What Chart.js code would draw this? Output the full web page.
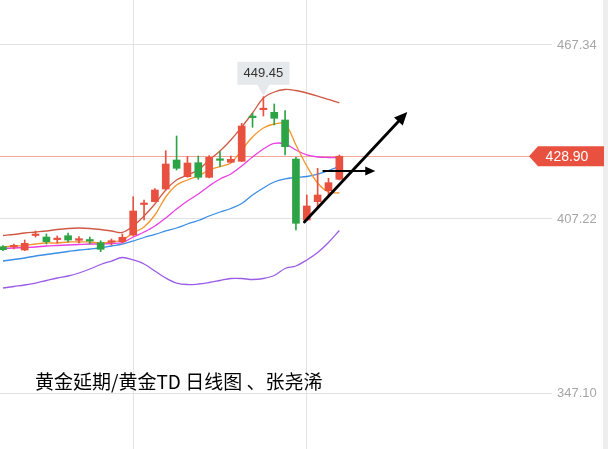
<!DOCTYPE html>
<html><head><meta charset="utf-8">
<script src="https://cdn.jsdelivr.net/npm/chart.js@4"></script>
<style>
html,body{margin:0;padding:0;background:#fff;overflow:hidden}
#wrap{position:relative;width:608px;height:449px;background:linear-gradient(to right,#fff 603px,#eeeeee 603px)}
</style>
</head><body><div id="wrap"><canvas id="c" width="608" height="449"></canvas></div>
<script>
// ---- data ----
const opens  = [397.65,397.58,396.51,401.52,401.00,400.10,401.45,399.86,399.83,399.03,399.20,399.38,401.69,412.23,413.20,417.58,427.60,421.83,426.67,421.62,427.70,426.80,427.15,442.45,444.97,444.07,441.41,427.94,406.87,413.20,416.99,420.93];
const highs  = [398.00,398.58,399.97,403.08,402.04,401.35,402.38,401.11,401.00,399.72,400.31,402.04,414.92,413.78,417.75,430.81,435.89,428.81,428.98,429.15,430.47,428.98,440.27,443.73,449.45,446.94,444.63,428.53,415.51,424.73,421.28,429.33];
const lows   = [396.27,396.86,396.27,401.00,398.58,398.93,399.28,398.93,398.58,395.93,398.24,398.93,401.35,406.87,413.09,417.24,424.14,421.62,420.93,421.38,425.28,426.74,427.05,438.89,442.80,439.69,429.33,403.42,406.70,411.47,415.51,420.69];
const closes = [396.62,397.72,398.83,401.76,399.38,400.31,399.97,400.42,399.62,396.75,399.35,400.90,409.98,412.47,417.24,426.22,424.73,426.56,421.62,428.53,427.49,427.84,439.34,442.24,445.21,442.00,432.19,405.73,411.71,415.51,419.76,428.90];
const upperBand = [401.52,401.87,402.38,402.73,403.08,403.59,403.94,404.11,403.94,403.59,403.08,402.56,404.80,408.26,412.40,417.24,420.69,422.42,424.14,427.60,430.71,434.51,439.00,443.83,449.01,451.09,451.95,451.60,450.74,449.70,448.50,447.29];
const maFast    = [397.55,397.89,398.07,398.58,398.93,398.93,399.28,399.28,399.28,398.93,399.28,399.97,402.38,404.46,408.60,414.82,418.96,420.69,422.07,424.14,425.35,426.56,431.05,435.54,438.65,440.03,440.03,432.78,425.53,419.65,416.55,416.20];
const maMid     = [397.03,397.20,397.38,397.55,397.89,398.07,398.24,398.41,398.58,398.58,398.76,399.10,401.00,402.73,404.80,407.57,410.67,413.44,415.86,418.62,421.04,422.76,425.53,428.63,431.40,433.30,433.13,431.05,429.33,428.63,428.46,428.46];
const maSlow    = [392.71,393.23,393.75,394.44,394.96,395.48,395.99,396.51,396.86,397.20,397.89,398.58,399.62,400.83,401.87,403.08,404.11,405.49,406.70,408.26,409.64,410.85,412.57,415.51,417.93,420.00,421.04,421.55,421.90,422.76,423.97,425.35];
const lowerBand = [383.39,383.91,384.42,385.11,385.98,386.84,387.53,388.57,389.95,391.50,392.71,393.92,393.06,391.68,389.26,386.84,385.11,384.60,384.77,385.29,385.98,386.67,386.67,386.32,386.67,387.70,390.12,390.99,393.06,395.65,399.10,403.25];
const yTickValues = [347.10, 407.22, 467.34];
const xGridIndexes = [12, 28];
const lastPrice = 428.90;
const peakIndex = 24;
const peakValue = 449.45;
const titleText = '黄金延期/黄金TD 日线图 、张尧浠';
const trendArrowFrom = [27.78, 406.18];
const trendArrowTo   = [37.26, 444.18];
const flatArrowFrom  = [29.53, 423.80];
const flatArrowTo    = [34.31, 423.80];

// ---- build ----
const UP = '#e8503f', DOWN = '#2ca446';
const idx = closes.map((_, i) => i);
const candleColors = idx.map(i => closes[i] >= opens[i] ? UP : DOWN);
const wickData = idx.map(i => ({x: i, y: [lows[i], highs[i]]}));
const bodyData = idx.map(i => ({x: i, y: [opens[i], closes[i]]}));
const asPoints = arr => arr.map((v, i) => ({x: i, y: v}));

function lineDs(arr, color, order) {
  return {type: 'line', data: asPoints(arr), borderColor: color, borderWidth: 1.3,
    pointRadius: 0, tension: 0.35, fill: false, order: order};
}

function drawArrow(ctx, x1, y1, x2, y2, w, head, half) {
  const a = Math.atan2(y2 - y1, x2 - x1);
  const bx = x2 - head * Math.cos(a), by = y2 - head * Math.sin(a);
  ctx.beginPath(); ctx.moveTo(x1, y1); ctx.lineTo(bx, by);
  ctx.lineWidth = w; ctx.stroke();
  ctx.beginPath(); ctx.moveTo(x2, y2);
  ctx.lineTo(bx + half * Math.sin(a), by - half * Math.cos(a));
  ctx.lineTo(bx - half * Math.sin(a), by + half * Math.cos(a));
  ctx.closePath(); ctx.fill();
}

const overlay = {
  id: 'overlay',
  beforeDatasetsDraw(chart) {
    const {ctx, scales: {y}} = chart;
    const py = Math.round(y.getPixelForValue(lastPrice)) + 0.5;
    ctx.save();
    ctx.strokeStyle = '#f2a598'; ctx.lineWidth = 1;
    ctx.beginPath(); ctx.moveTo(0, py); ctx.lineTo(532, py); ctx.stroke();
    ctx.restore();
  },
  afterDatasetsDraw(chart) {
    const {ctx, scales: {x, y}} = chart;
    ctx.save();
    // arrows
    ctx.strokeStyle = '#000'; ctx.fillStyle = '#000'; ctx.lineCap = 'round';
    drawArrow(ctx, x.getPixelForValue(trendArrowFrom[0]), y.getPixelForValue(trendArrowFrom[1]),
      x.getPixelForValue(trendArrowTo[0]), y.getPixelForValue(trendArrowTo[1]), 2.8, 13, 6);
    drawArrow(ctx, x.getPixelForValue(flatArrowFrom[0]), y.getPixelForValue(flatArrowFrom[1]),
      x.getPixelForValue(flatArrowTo[0]), y.getPixelForValue(flatArrowTo[1]), 2.2, 10, 4.5);
    // last price label
    const py = y.getPixelForValue(lastPrice);
    ctx.fillStyle = '#e8503f';
    ctx.beginPath();
    ctx.moveTo(529, py); ctx.lineTo(538, py - 10); ctx.lineTo(604, py - 10);
    ctx.lineTo(604, py + 10); ctx.lineTo(538, py + 10); ctx.closePath(); ctx.fill();
    ctx.fillStyle = '#fff'; ctx.font = '14px "Liberation Sans", Arial, sans-serif';
    ctx.textAlign = 'center'; ctx.textBaseline = 'middle';
    ctx.fillText(lastPrice.toFixed(2), 567, py + 0.5);
    // peak tooltip
    const tx = x.getPixelForValue(peakIndex), ty = y.getPixelForValue(peakValue) - 1;
    ctx.fillStyle = '#e6e9ec';
    ctx.beginPath();
    ctx.moveTo(tx, ty); ctx.lineTo(tx - 6, ty - 11); ctx.lineTo(tx - 26, ty - 11);
    ctx.lineTo(tx - 26, ty - 34); ctx.lineTo(tx + 26, ty - 34); ctx.lineTo(tx + 26, ty - 11);
    ctx.lineTo(tx + 6, ty - 11); ctx.closePath(); ctx.fill();
    ctx.fillStyle = '#333'; ctx.font = '13px "Liberation Sans", Arial, sans-serif';
    ctx.fillText(peakValue.toFixed(2), tx, ty - 22);
    // caption
    ctx.fillStyle = '#000'; ctx.textAlign = 'left';
    ctx.font = '19px "Noto Sans CJK SC", sans-serif';
    ctx.fillText(titleText, 35, 382);
    ctx.restore();
  }
};

new Chart(document.getElementById('c'), {
  type: 'bar',
  data: {
    datasets: [
      {data: bodyData, backgroundColor: candleColors, barThickness: 7, minBarLength: 1.5, grouped: false, order: 0},
      {data: wickData, backgroundColor: candleColors, barThickness: 1, grouped: false, order: 1},
      lineDs(upperBand, '#cf5a44', 2),
      lineDs(maFast, '#f5942a', 3),
      lineDs(maMid, '#ea3fe2', 4),
      lineDs(maSlow, '#3b8ee6', 5),
      lineDs(lowerBand, '#9b5de6', 6)
    ]
  },
  options: {
    responsive: false, animation: false, devicePixelRatio: 1,
    layout: {padding: 0},
    plugins: {legend: {display: false}, tooltip: {enabled: false}, title: {display: false}},
    scales: {
      x: {type: 'linear', min: -0.276, max: 50.6, offset: false,
        grid: {color: '#e4e4e4', drawTicks: false, offset: false}, border: {display: false},
        ticks: {display: false},
        afterBuildTicks: s => { s.ticks = xGridIndexes.map(v => ({value: v})); },
        afterFit: s => { s.height = 0; s.paddingLeft = 0; s.paddingRight = 0; }},
      y: {position: 'right', min: 327.78, max: 482.86,
        grid: {color: '#e2e2e2', drawTicks: false}, border: {display: false},
        afterBuildTicks: s => { s.ticks = yTickValues.map(v => ({value: v})); },
        afterFit: s => { s.width = 56; s.paddingTop = 0; s.paddingBottom = 0; },
        ticks: {padding: 5, color: '#a6a6a6', font: {size: 13, family: '"Liberation Sans", Arial, sans-serif'},
          callback: v => Number(v).toFixed(2)}}
    }
  },
  plugins: [overlay]
});
</script>
</body></html>
